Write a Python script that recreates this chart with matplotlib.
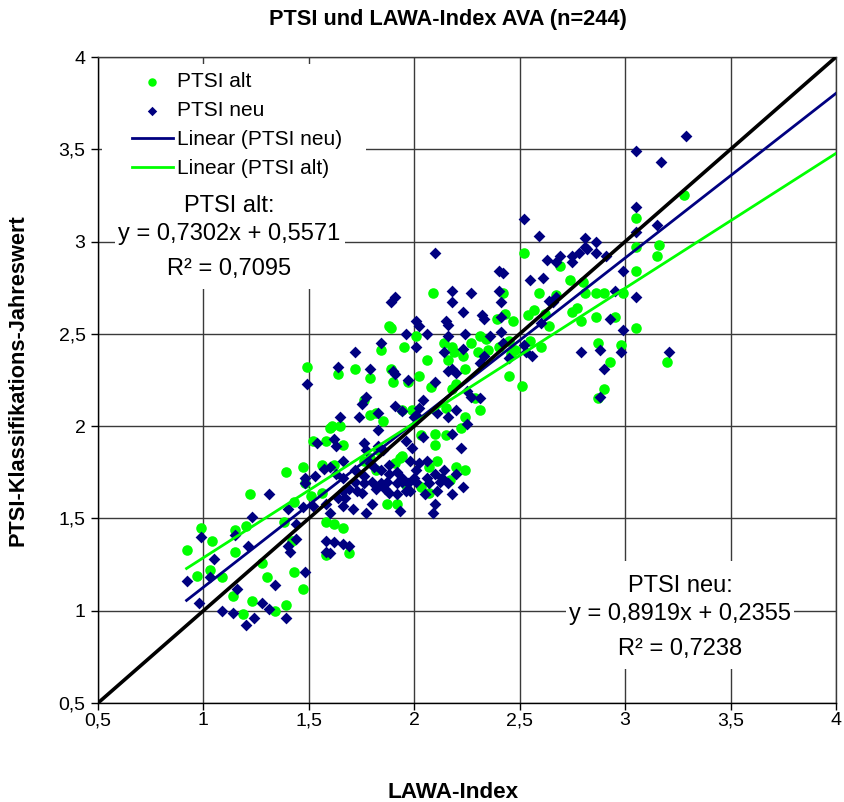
import matplotlib
matplotlib.use("Agg")
import matplotlib.pyplot as plt
from matplotlib.patches import Rectangle
from matplotlib.ticker import FixedLocator, FuncFormatter

plt.rcParams["font.family"] = ["Liberation Sans", "DejaVu Sans"]

# LAWA-Index vs. PTSI annual classification value, old (alt) and new (neu) PTSI
alt_points = [
    (2.09, 2.72), (2.42, 2.72), (2.52, 2.94), (3.28, 3.25), (3.05, 3.13), (2.69, 2.87),
    (3.05, 2.97), (3.16, 2.98), (3.15, 2.92), (3.05, 2.84), (2.74, 2.79), (2.80, 2.78),
    (2.59, 2.72), (2.67, 2.71), (2.81, 2.72), (2.86, 2.72), (2.90, 2.72), (2.99, 2.72),
    (2.57, 2.63), (2.54, 2.60), (2.62, 2.61), (2.64, 2.54), (2.75, 2.62), (2.77, 2.64),
    (2.79, 2.57), (2.86, 2.59), (2.95, 2.59), (3.05, 2.53), (2.55, 2.46), (2.60, 2.43),
    (2.87, 2.45), (2.98, 2.44), (2.93, 2.35), (3.20, 2.35), (2.51, 2.22), (2.90, 2.20),
    (2.87, 2.15),
    (1.49, 2.32), (1.52, 1.92), (1.58, 1.92), (1.47, 1.78), (1.56, 1.79), (1.39, 1.75),
    (1.60, 1.99),
    (1.22, 1.63), (0.99, 1.45), (1.04, 1.38), (1.15, 1.44), (1.20, 1.46), (0.92, 1.33),
    (1.15, 1.32), (1.03, 1.22), (0.97, 1.19), (1.09, 1.18), (1.28, 1.26), (1.30, 1.18),
    (1.43, 1.21), (1.47, 1.12), (1.14, 1.08), (1.23, 1.05), (1.34, 1.00), (1.39, 1.03),
    (1.19, 0.98), (1.38, 1.48), (1.43, 1.59), (1.42, 1.38), (1.48, 1.69), (1.51, 1.62),
    (1.56, 1.64), (1.58, 1.48), (1.58, 1.30),
    (1.69, 1.31), (1.62, 1.47), (1.66, 1.45), (1.87, 1.58), (1.92, 1.58), (2.07, 1.64),
    (2.03, 1.67), (1.96, 1.68), (2.17, 1.71), (1.85, 1.68),
    (2.43, 2.61), (2.39, 2.58), (2.47, 2.57), (1.88, 2.54), (1.89, 2.53), (2.01, 2.49),
    (2.14, 2.45), (2.18, 2.43), (2.16, 2.36), (2.19, 2.40), (2.27, 2.45), (2.23, 2.38),
    (2.31, 2.49), (2.34, 2.47), (2.30, 2.40), (2.35, 2.41), (2.40, 2.43), (2.45, 2.46),
    (2.48, 2.41), (2.46, 2.39), (2.45, 2.27), (1.84, 2.41), (1.64, 2.28), (1.72, 2.31),
    (1.79, 2.26), (1.95, 2.43), (2.06, 2.36), (1.89, 2.31), (1.90, 2.24), (1.97, 2.24),
    (2.02, 2.27), (2.08, 2.21), (2.24, 2.31), (2.20, 2.23), (2.18, 2.20), (2.29, 2.15),
    (2.31, 2.09), (1.76, 2.14), (1.79, 2.06), (1.82, 2.07), (1.85, 2.03), (1.61, 2.00),
    (1.65, 2.00), (1.66, 1.90), (1.76, 1.81), (1.79, 1.83), (1.94, 2.09), (1.99, 2.09),
    (2.15, 2.10), (2.24, 2.05), (2.22, 1.99), (2.03, 1.95), (2.10, 1.96), (2.15, 1.95),
    (2.10, 1.90), (1.94, 1.84), (2.11, 1.81), (2.07, 1.78), (2.20, 1.78), (2.24, 1.76),
    (1.62, 1.79), (1.82, 1.76), (1.83, 1.87), (1.91, 1.80), (1.93, 1.83),
]

neu_points = [
    (2.10, 2.94), (2.40, 2.84), (2.42, 2.83), (2.18, 2.73), (2.27, 2.72), (2.40, 2.73),
    (1.91, 2.70), (3.29, 3.57), (3.05, 3.49), (3.17, 3.43), (3.05, 3.19), (2.52, 3.12),
    (2.59, 3.03), (3.05, 3.05), (3.15, 3.09), (2.81, 3.02), (2.86, 3.00), (2.81, 2.97),
    (2.82, 2.96), (2.63, 2.90), (2.67, 2.89), (2.69, 2.92), (2.75, 2.89), (2.75, 2.92),
    (2.78, 2.94), (2.86, 2.94), (2.91, 2.92), (2.99, 2.84), (2.55, 2.79), (2.61, 2.80),
    (2.67, 2.70), (2.95, 2.73), (3.05, 2.70),
    (2.64, 2.68), (2.66, 2.67), (2.60, 2.56), (2.93, 2.58), (2.99, 2.52), (2.52, 2.44),
    (2.56, 2.38), (2.53, 2.40), (2.79, 2.40), (2.88, 2.41), (2.98, 2.40), (2.90, 2.31),
    (3.21, 2.40), (2.88, 2.16),
    (1.49, 2.23), (1.54, 1.91), (1.57, 1.77), (1.48, 1.72), (1.53, 1.73),
    (1.31, 1.63), (1.23, 1.51), (0.99, 1.40), (1.15, 1.41), (1.21, 1.35), (1.05, 1.28),
    (0.92, 1.16), (1.03, 1.18), (1.16, 1.12), (1.34, 1.14), (1.48, 1.21), (0.98, 1.04),
    (1.09, 1.00), (1.14, 0.99), (1.28, 1.04), (1.31, 1.01), (1.39, 0.96), (1.20, 0.92),
    (1.24, 0.96), (1.40, 1.55), (1.44, 1.47), (1.44, 1.39), (1.41, 1.32), (1.40, 1.35),
    (1.48, 1.69), (1.47, 1.56), (1.52, 1.57), (1.58, 1.58), (1.58, 1.38), (1.58, 1.32),
    (1.62, 1.37), (1.66, 1.36), (1.69, 1.35), (1.60, 1.31), (1.60, 1.53), (1.66, 1.57),
    (1.71, 1.55), (1.77, 1.53), (1.80, 1.58), (1.93, 1.54), (1.98, 1.65), (2.09, 1.53),
    (2.10, 1.58), (2.18, 1.63), (2.23, 1.67), (2.05, 1.63), (2.11, 1.65), (2.01, 1.70),
    (2.07, 1.69), (2.12, 1.70), (2.16, 1.69),
    (1.72, 1.70), (1.76, 1.69), (1.80, 1.70), (1.84, 1.69), (1.87, 1.70), (1.92, 1.69),
    (1.94, 1.70), (1.97, 1.69), (1.66, 1.65), (1.69, 1.66), (1.73, 1.65), (1.75, 1.64),
    (1.82, 1.66), (1.86, 1.66), (1.88, 1.64), (1.92, 1.63), (1.96, 1.65), (1.64, 1.61),
    (1.67, 1.61),
    (1.89, 2.67), (2.18, 2.67), (2.23, 2.62), (2.41, 2.67), (2.41, 2.59), (2.32, 2.60),
    (2.33, 2.58), (2.01, 2.57), (2.02, 2.54), (1.96, 2.50), (2.06, 2.50), (2.15, 2.57),
    (2.16, 2.55), (2.16, 2.49), (2.14, 2.40), (2.24, 2.50), (2.23, 2.42), (2.36, 2.49),
    (2.41, 2.51), (2.42, 2.45), (2.33, 2.38), (2.31, 2.34), (2.45, 2.37), (1.84, 2.45),
    (1.72, 2.40), (1.64, 2.32), (1.79, 2.31), (2.01, 2.43), (1.90, 2.30), (1.91, 2.28),
    (1.97, 2.25), (2.10, 2.24), (2.16, 2.30), (2.18, 2.31), (2.20, 2.29), (2.25, 2.19),
    (2.27, 2.16), (2.31, 2.15), (1.77, 2.16), (1.75, 2.12), (1.65, 2.05), (1.74, 2.05),
    (1.83, 2.07), (1.83, 1.98), (1.62, 1.93), (1.66, 1.81), (1.76, 1.91), (1.77, 1.87),
    (1.83, 1.89), (1.85, 1.87), (1.88, 1.79), (1.84, 1.76), (1.91, 2.11), (1.94, 2.08),
    (2.02, 2.10), (2.04, 2.14), (2.00, 2.05), (2.01, 2.06), (2.11, 2.07), (2.16, 2.05),
    (2.20, 2.09), (2.25, 2.01), (2.18, 1.96), (1.96, 1.92), (1.99, 1.88), (2.04, 1.94),
    (2.22, 1.88), (1.98, 1.81), (2.06, 1.81), (2.02, 1.80), (2.01, 1.76), (2.14, 1.76),
    (2.20, 1.74), (2.10, 1.74), (1.60, 1.78), (1.63, 1.74), (1.66, 1.72), (1.72, 1.76),
    (1.76, 1.73), (1.79, 1.80), (1.81, 1.78), (1.88, 1.74), (1.92, 1.75), (1.94, 1.72),
    (2.00, 1.72), (2.06, 1.72), (2.13, 1.72), (1.63, 1.89),
]

lawa_alt = [p[0] for p in alt_points]
ptsi_alt = [p[1] for p in alt_points]
lawa_neu = [p[0] for p in neu_points]
ptsi_neu = [p[1] for p in neu_points]

# regression lines as stated in the annotations
slope_alt, icpt_alt, r2_alt = 0.7302, 0.5571, 0.7095
slope_neu, icpt_neu, r2_neu = 0.8919, 0.2355, 0.7238

tick_values = [0.5, 1.0, 1.5, 2.0, 2.5, 3.0, 3.5, 4.0]

GREEN = "#00ff00"
NAVY = "#000080"
GRID = "#3a3a3a"

FIG_W, FIG_H = 844, 802
AX_L, AX_R, AX_T, AX_B = 98, 836, 57, 703


def de_num(v, nd=None):
    s = f"{v:g}" if nd is None else f"{v:.{nd}f}"
    return s.replace(".", ",")


def px_box(x0, x1, y0, y1):
    """Pixel rectangle -> axes-fraction (x, y, w, h)."""
    w, h = AX_R - AX_L, AX_B - AX_T
    return ((x0 - AX_L) / w, (AX_B - y1) / h, (x1 - x0) / w, (y1 - y0) / h)


def px_pt(x, y):
    """Pixel point -> axes fraction."""
    return ((x - AX_L) / (AX_R - AX_L), (AX_B - y) / (AX_B - AX_T))


fig = plt.figure(figsize=(FIG_W / 100, FIG_H / 100), dpi=100)
ax = fig.add_axes([AX_L / FIG_W, 1 - AX_B / FIG_H,
                   (AX_R - AX_L) / FIG_W, (AX_B - AX_T) / FIG_H])
ax.set_xlim(0.5, 4)
ax.set_ylim(0.5, 4)
ax.xaxis.set_major_locator(FixedLocator(tick_values))
ax.yaxis.set_major_locator(FixedLocator(tick_values))
fmt = FuncFormatter(lambda v, pos: de_num(v))
ax.xaxis.set_major_formatter(fmt)
ax.yaxis.set_major_formatter(fmt)
ax.grid(True, color=GRID, lw=1.0, zorder=0.5)
ax.set_axisbelow(True)
for sp in ax.spines.values():
    sp.set_color(GRID)
    sp.set_linewidth(1.0)
ax.spines["left"].set_color("black")
ax.spines["bottom"].set_color("black")
ax.tick_params(direction="out", length=5, width=1, color="black", labelsize=14)
ax.tick_params(axis="x", pad=1.5)
ax.tick_params(axis="y", pad=4)

# white panels behind legend and equation labels
for x0, x1, y0, y1 in [(102, 366, 64, 190), (115, 345, 188, 289), (566, 794, 561, 669)]:
    bx, by, bw, bh = px_box(x0, x1, y0, y1)
    ax.add_patch(Rectangle((bx, by), bw, bh, transform=ax.transAxes,
                           fc="white", ec="none", zorder=1))

ax.scatter(lawa_alt, ptsi_alt, s=58, marker="o", color=GREEN, lw=0,
           zorder=3, label="PTSI alt")
ax.scatter(lawa_neu, ptsi_neu, s=36, marker="D", color=NAVY, lw=0,
           zorder=3.1, label="PTSI neu")

x_alt0 = min(lawa_alt)
x_neu0 = min(lawa_neu)
ax.plot([x_neu0, 4], [slope_neu * x_neu0 + icpt_neu, slope_neu * 4 + icpt_neu],
        color=NAVY, lw=2.0, zorder=4, label="Linear (PTSI neu)")
ax.plot([x_alt0, 4], [slope_alt * x_alt0 + icpt_alt, slope_alt * 4 + icpt_alt],
        color=GREEN, lw=2.0, zorder=4, label="Linear (PTSI alt)")
ax.plot([0.5, 4], [0.5, 4], color="black", lw=2.6, zorder=4.5)

leg = ax.legend(loc="upper left", bbox_to_anchor=px_pt(132, 72),
                frameon=False, fontsize=15, handlelength=1.95, handletextpad=0.2,
                labelspacing=0.48, borderpad=0.0, borderaxespad=0.0,
                markerscale=0.8, scatterpoints=1)
leg.set_zorder(6)


def equation_block(cx, baselines, name, slope, icpt, r2):
    lines = [f"{name}:",
             f"y = {de_num(slope, 4)}x + {de_num(icpt, 4)}",
             f"R² = {de_num(r2, 4)}"]
    for s, yb in zip(lines, baselines):
        ax.text(*px_pt(cx, yb), s, transform=ax.transAxes, ha="center",
                va="baseline", fontsize=17, zorder=6)


equation_block(229, (211.5, 240, 275), "PTSI alt", slope_alt, icpt_alt, r2_alt)
equation_block(680, (591.5, 620, 654.5), "PTSI neu", slope_neu, icpt_neu, r2_neu)

fig.text(448 / FIG_W, 1 - 20 / FIG_H, "PTSI und LAWA-Index AVA (n=244)",
         ha="center", va="center", fontsize=15.7, weight="bold")
fig.text(453 / FIG_W, 1 - 793 / FIG_H, "LAWA-Index", ha="center", va="center",
         fontsize=16.2, weight="bold")
fig.text(18 / FIG_W, 1 - 380 / FIG_H, "PTSI-Klassifikations-Jahreswert",
         ha="center", va="center", rotation=90, fontsize=15.7, weight="bold")

fig.savefig("out.png", dpi=100)
